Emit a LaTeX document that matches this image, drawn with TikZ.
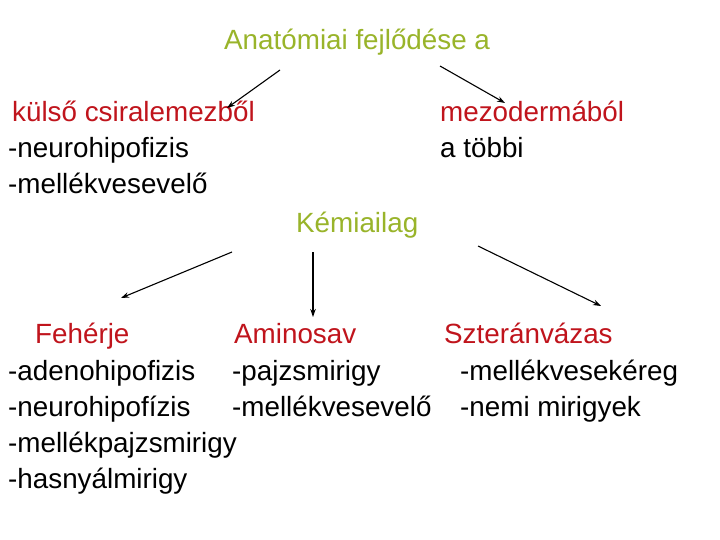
\documentclass[tikz,border=0pt]{standalone}
\usepackage{fontspec}
\usetikzlibrary{arrows.meta}
\setmainfont{Liberation Sans}
\definecolor{olv}{HTML}{99B42A}
\definecolor{rd}{HTML}{C0141C}
\begin{document}
\begin{tikzpicture}[x=1pt,y=-1pt,
  t/.style={anchor=base west,inner sep=0pt,font=\fontsize{27.8}{28}\selectfont},
  g/.style={t,text=olv},r/.style={t,text=rd},
  ar/.style={-{Stealth[length=8pt,width=5.5pt]},line width=1.1pt}]
\useasboundingbox (0,0) rectangle (720,540);
\fill[white] (0,0) rectangle (720,540);
\node[g] (title) at (224,50) {Anatómiai fejlődése a};
\node[r] (kulso) at (12,122) {külső csiralemezből};
\node[t] (k1) at (8,158) {-neurohipofizis};
\node[t] (k2) at (8,194) {-mellékvesevelő};
\node[r] (mezo) at (440,122) {mezodermából};
\node[t] (m1) at (440,158) {a többi};
\node[g] (kem) at (296,233) {Kémiailag};
\node[r] (feh) at (35,343) {Fehérje};
\node[r] (amin) at (234,343) {Aminosav};
\node[r] (szt) at (444,343) {Szteránvázas};
\node[t] (f1) at (8,380) {-adenohipofizis};
\node[t] (f2) at (8,416) {-neurohipofízis};
\node[t] (f3) at (8,452) {-mellékpajzsmirigy};
\node[t] (f4) at (8,488) {-hasnyálmirigy};
\node[t] (a1) at (232,380) {-pajzsmirigy};
\node[t] (a2) at (232,416) {-mellékvesevelő};
\node[t] (s1) at (460,380) {-mellékvesekéreg};
\node[t] (s2) at (460,416) {-nemi mirigyek};
\coordinate (c1) at (280,70); \coordinate (c2) at (227,108);
\coordinate (c3) at (440,66); \coordinate (c4) at (505,103);
\coordinate (c5) at (232,252); \coordinate (c6) at (121,298);
\coordinate (c7) at (313,252); \coordinate (c8) at (313,317);
\coordinate (c9) at (478,246); \coordinate (c10) at (601,306);
\draw[ar] (c1) -- (c2);
\draw[ar] (c3) -- (c4);
\draw[ar] (c5) -- (c6);
\draw[ar] (c7) -- (c8);
\draw[ar] (c9) -- (c10);
\end{tikzpicture}
\end{document}
